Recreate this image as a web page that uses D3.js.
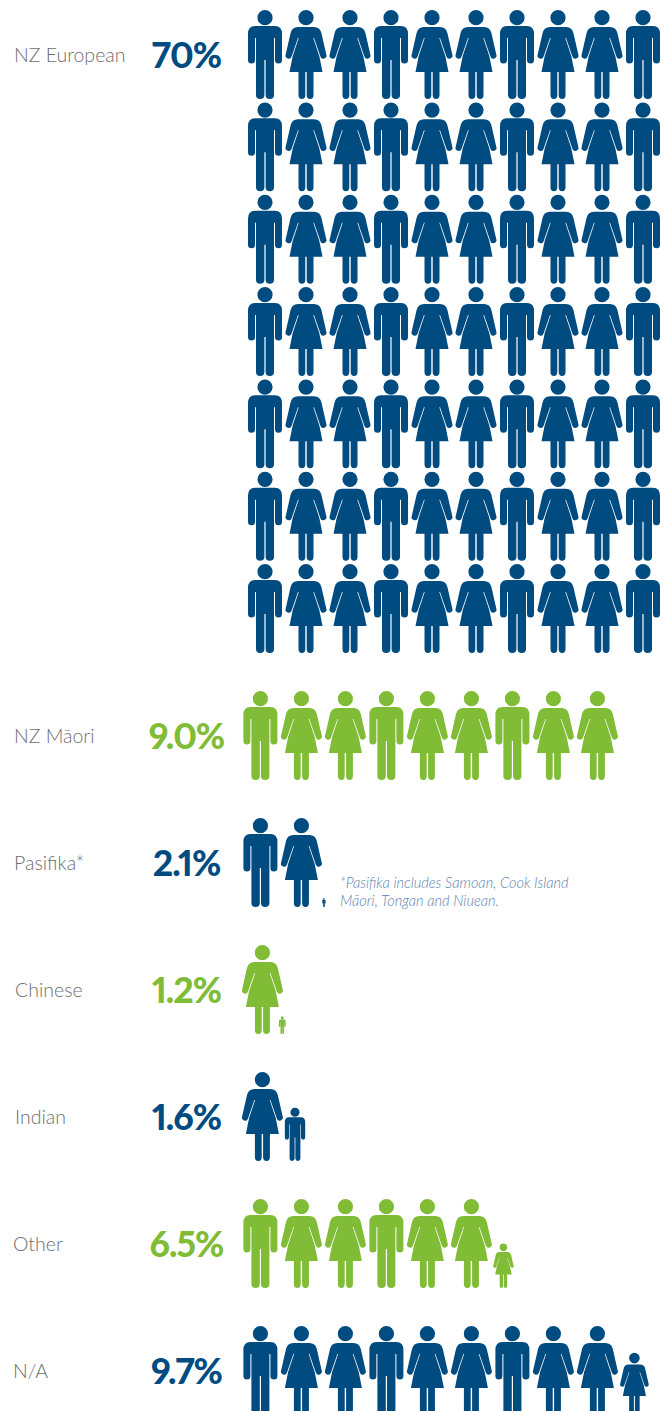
<!DOCTYPE html>
<html><head><meta charset="utf-8">
<script src="https://cdn.jsdelivr.net/npm/d3@7"></script>
<style>html,body{margin:0;padding:0;background:#fff}svg{display:block}</style>
</head><body><svg id="c" width="670" height="1411"></svg>
<script>
// ---- data ----
const categories = ["NZ European","NZ Māori","Pasifika*","Chinese","Indian","Other","N/A"];
const percentLabels = ["70%","9.0%","2.1%","1.2%","1.6%","6.5%","9.7%"];
const values = [70, 9.0, 2.1, 1.2, 1.6, 6.5, 9.7];
const genderPattern = ["m","w","w"];
const firstGender = [0, 0, 0, 1, 1, 0, 0];          // where in the m-w-w cycle a row starts
const fractionGender = ["", "", "m", "m", "m", "w", "w"];
const colours = ["#004b80","#80bc35"];
const rowColour = [0, 1, 0, 1, 0, 1, 0];
const footnote = ["*Pasifika includes Samoan, Cook Island","Māori, Tongan and Niuean."];

// ---- layout ----
const W = 670, H = 1411, personH = 89, perRow = 10;
const svg = d3.select("#c");
const blockTop = d3.scaleLinear().domain([0, 6]).range([10, 564]);
const rowTop = d3.scaleLinear().domain([1, 6]).range([691, 1326]);
const halfW = {m: 17, w: 20};
const fracTweak = {2: -3.2, 3: -7.5, 4: -1.6, 5: -2, 6: -1};
const labelX = [14, 14, 14, 15, 15, 13, 13];
const startCentre = i => i === 0 ? 265 : i === 3 || i === 4 ? 262.4 : 260.4;

const man = "M-10,16H10Q17,16 17,24V50A3.5,3.5 0 0 1 10,50V28H9V85A4.2,4 0 0 1 .6,85V50H-.6V85A4.2,4 0 0 1 -9,85V28H-10V50A3.5,3.5 0 0 1 -17,50V24Q-17,16 -10,16Z";
const woman = "M-8,17H8Q14,17 15.4,23L20.3,44.5A3.1,3.1 0 0 1 14.4,46.5L8,28H7.3L13.3,46L16.5,62H7.5V85A3.4,4 0 0 1 .7,85V62H-.7V85A3.4,4 0 0 1 -7.5,85V62H-16.5L-13.3,46L-7.3,28H-8L-14.4,46.5A3.1,3.1 0 0 1 -20.3,44.5L-15.4,23Q-14,17 -8,17Z";
const head = "M-7.6,7.7A7.6,7.6 0 1 1 7.6,7.7A7.6,7.6 0 1 1 -7.6,7.7Z";
const glyph = {m: man + head, w: woman + head};

// expand a row value into people (whole ones plus one scaled fraction)
function peopleFor(v, i) {
  const out = [];
  const whole = Math.floor(v + 1e-9), frac = Math.round((v - whole) * 10) / 10;
  const n = whole + (frac > 0 ? 1 : 0);
  let x = startCentre(i), prev = null;
  for (let k = 0; k < n; k++) {
    const g = k < whole ? genderPattern[(k + firstGender[i]) % 3] : fractionGender[i];
    const s = k < whole ? 1 : frac;
    if (prev) x += halfW[prev] + 4 + halfW[g] * s + (s < 1 ? (fracTweak[i] || 0) : 0);
    out.push({g, s, x});
    prev = g;
  }
  return out;
}

function drawPeople(list, top, colour) {
  svg.append("g").selectAll("path").data(list).join("path")
    .attr("d", d => glyph[d.g])
    .attr("fill", colour)
    .attr("transform", d => `translate(${d.x},${top + personH * (1 - d.s)}) scale(${d.s})`);
}

// European block: 7 rows of 10
d3.range(values[0] / perRow).forEach(r => {
  let x = startCentre(0), prev = null;
  const list = d3.range(perRow).map(k => {
    const g = genderPattern[k % 3];
    if (prev) x += halfW[prev] + 4 + halfW[g];
    prev = g;
    return {g, s: 1, x};
  });
  drawPeople(list, blockTop(r), colours[0]);
});
values.forEach((v, i) => { if (i > 0) drawPeople(peopleFor(v, i), rowTop(i), colours[rowColour[i]]); });

// text
const tops = categories.map((c, i) => i === 0 ? blockTop(0) : rowTop(i));
svg.append("g").selectAll("text").data(categories).join("text")
  .attr("x", (d, i) => labelX[i]).attr("y", (d, i) => tops[i] + 52)
  .attr("font-family", "Lato").attr("font-weight", 300).attr("font-size", 19.5)
  .attr("fill", "#6d6e71").text(d => d);
svg.append("g").selectAll("text").data(percentLabels).join("text")
  .attr("x", 186.5).attr("y", (d, i) => tops[i] + 58).attr("text-anchor", "middle")
  .attr("font-family", "Lato").attr("font-weight", 900).attr("font-size", 35.5)
  .attr("letter-spacing", -1)
  .style("font-variant-numeric", "proportional-nums")
  .attr("fill", (d, i) => colours[rowColour[i]]).text(d => d);
svg.append("g").selectAll("text").data(footnote).join("text")
  .attr("x", 340).attr("y", (d, i) => 888 + i * 18)
  .attr("font-family", "Lato").attr("font-weight", 300).attr("font-style", "italic").attr("font-size", 14.6)
  .attr("fill", "#5f82b2").text(d => d);
</script></body></html>
